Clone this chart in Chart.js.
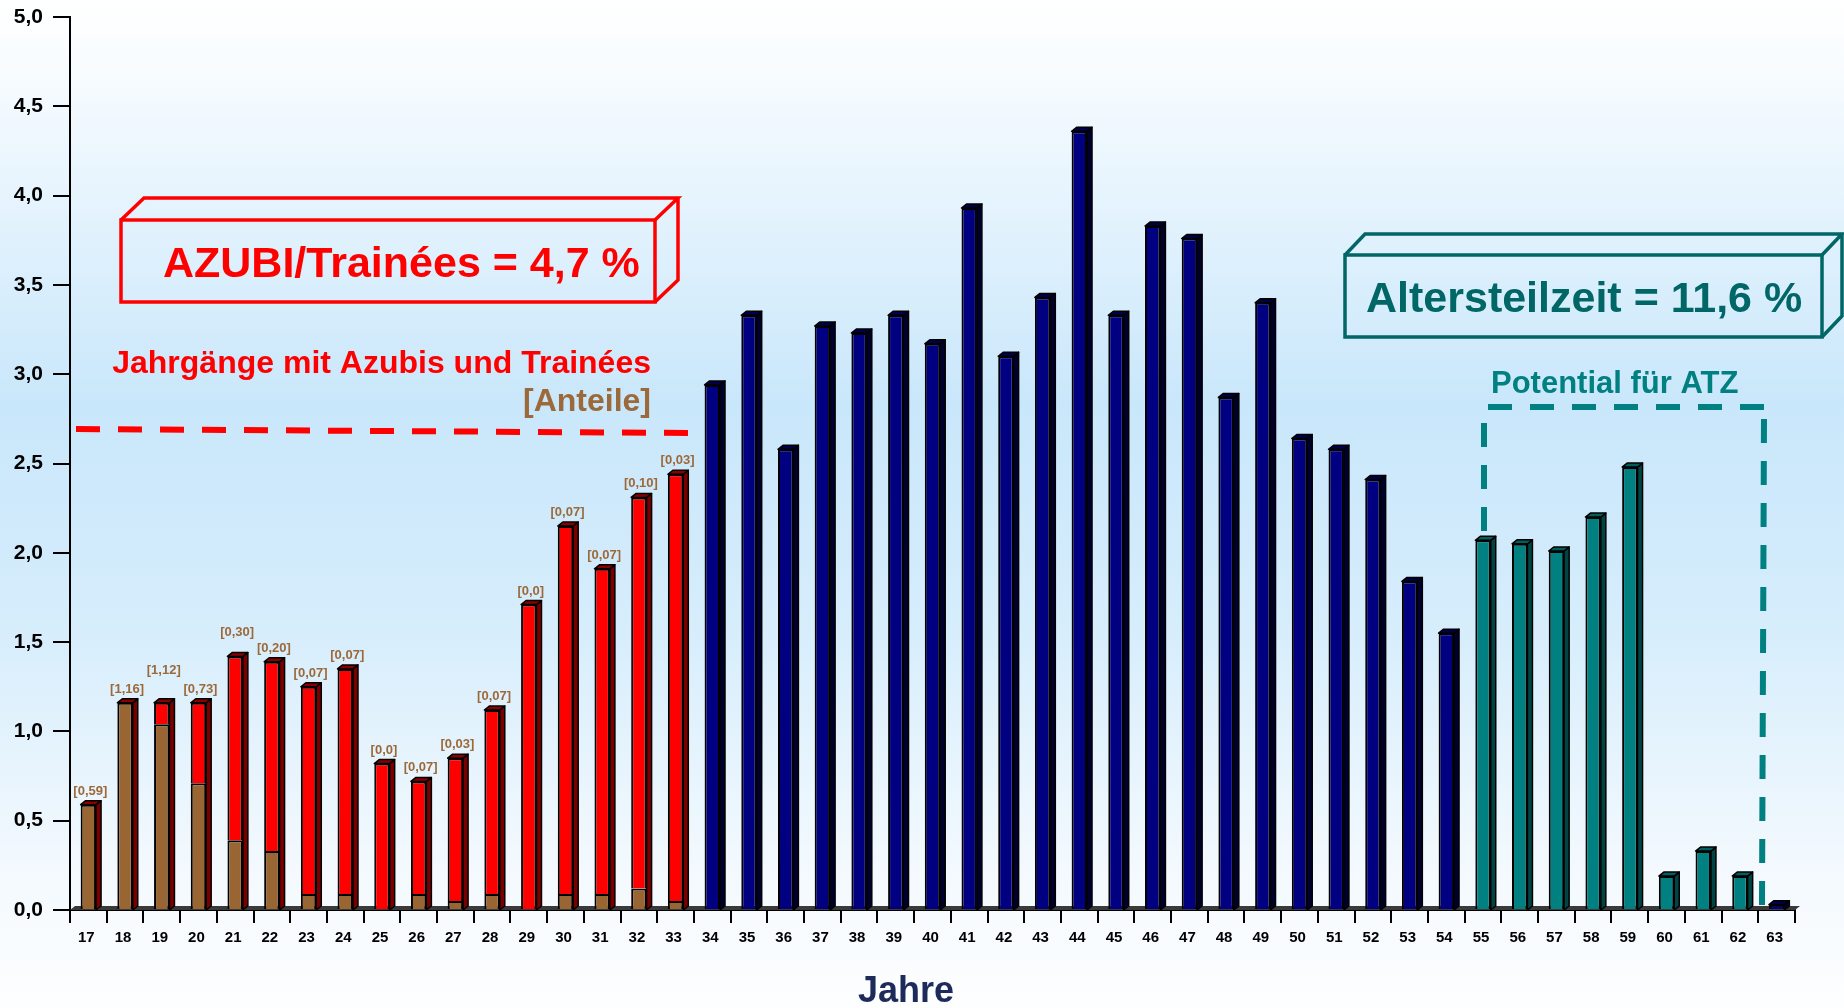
<!DOCTYPE html>
<html lang="de">
<head>
<meta charset="utf-8">
<title>Altersstruktur</title>
<script src="https://cdn.jsdelivr.net/npm/chart.js@4/dist/chart.umd.min.js"></script>
<style>
  html, body { margin: 0; padding: 0; overflow: hidden; background: #fff; }
  #wrap { position: relative; width: 1844px; height: 1008px; }
</style>
</head>
<body>
<div id="wrap"><canvas id="altersChart"></canvas></div>
<script>
// Jahrgänge (Alter) auf der x-Achse
const jahre = ['17', '18', '19', '20', '21', '22', '23', '24', '25', '26', '27', '28', '29', '30', '31', '32', '33',
  '34', '35', '36', '37', '38', '39', '40', '41', '42', '43', '44', '45', '46', '47', '48', '49', '50', '51', '52', '53', '54',
  '55', '56', '57', '58', '59', '60', '61', '62', '63'];

// Anteil je Jahrgang in %
const anteilGesamt = [0.59, 1.16, 1.16, 1.16, 1.42, 1.39, 1.25, 1.35, 0.82, 0.72, 0.85, 1.12, 1.71, 2.15, 1.91, 2.31, 2.44,
  2.94, 3.33, 2.58, 3.27, 3.23, 3.33, 3.17, 3.93, 3.10, 3.43, 4.36, 3.33, 3.83, 3.76, 2.87, 3.40, 2.64, 2.58, 2.41, 1.84, 1.55,
  2.07, 2.05, 2.01, 2.20, 2.48, 0.19, 0.33, 0.19, 0.03];

// Anteil Azubis/Trainées in den Jahrgängen 17 bis 33
const anteilAzubis = [0.59, 1.16, 1.04, 0.71, 0.39, 0.33, 0.09, 0.09, 0, 0.09, 0.05, 0.09, 0, 0.09, 0.09, 0.12, 0.05];
const azubiLabels = ['[0,59]', '[1,16]', '[1,12]', '[0,73]', '[0,30]', '[0,20]', '[0,07]', '[0,07]', '[0,0]',
  '[0,07]', '[0,03]', '[0,07]', '[0,0]', '[0,07]', '[0,07]', '[0,10]', '[0,03]'];

// Jahrgänge mit Altersteilzeit
const atzJahre = ['55', '56', '57', '58', '59', '60', '61', '62'];

const yTickLabels = ['0,0', '0,5', '1,0', '1,5', '2,0', '2,5', '3,0', '3,5', '4,0', '4,5', '5,0'];

const FONT = "'Liberation Sans', Arial, sans-serif";
Chart.defaults.font.family = FONT;

const nAzubi = anteilAzubis.length;
const braunDaten = jahre.map((j, i) => (i < nAzubi && anteilAzubis[i] > 0) ? anteilAzubis[i] : null);
const rotDaten = jahre.map((j, i) => {
  if (i >= nAzubi) return null;
  const rest = +(anteilGesamt[i] - anteilAzubis[i]).toFixed(2);
  return rest > 0 ? rest : null;
});
const tuerkisDaten = jahre.map((j, i) => atzJahre.includes(j) ? anteilGesamt[i] : null);
const blauDaten = jahre.map((j, i) => (i >= nAzubi && !atzJahre.includes(j)) ? anteilGesamt[i] : null);

const tiefe = { dx: 5, dy: 4 };

// Hintergrund mit Verlauf
const hintergrund = {
  id: 'hintergrund',
  beforeDraw(chart) {
    const { ctx, width, height } = chart;
    const g = ctx.createLinearGradient(0, 0, 0, height);
    g.addColorStop(0, '#ffffff');
    g.addColorStop(0.08, '#f6fbff');
    g.addColorStop(0.40, '#c9e7fb');
    g.addColorStop(0.62, '#d6edfc');
    g.addColorStop(0.86, '#f3f9fe');
    g.addColorStop(1, '#fdfeff');
    ctx.save();
    ctx.fillStyle = g;
    ctx.fillRect(0, 0, width, height);
    ctx.restore();
  }
};

// 3D-Boden unter den Säulen
const boden = {
  id: 'boden',
  beforeDatasetsDraw(chart) {
    const { ctx, chartArea } = chart;
    const base = chart.scales.y.getPixelForValue(0);
    ctx.save();
    ctx.fillStyle = '#3a3a3a';
    ctx.beginPath();
    ctx.moveTo(chartArea.left, base);
    ctx.lineTo(chartArea.left + tiefe.dx, base - tiefe.dy);
    ctx.lineTo(chartArea.right + tiefe.dx, base - tiefe.dy);
    ctx.lineTo(chartArea.right, base);
    ctx.closePath();
    ctx.fill();
    ctx.restore();
  }
};

function obersteSaeule(chart, j) {
  let top = null, idx = -1;
  chart.data.datasets.forEach((ds, i) => {
    if (ds.data[j] == null) return;
    const el = chart.getDatasetMeta(i).data[j];
    if (!top || el.y < top.y) { top = el; idx = i; }
  });
  return { top, idx };
}

// Seiten- und Deckflächen der Säulen
const saeulen3d = {
  id: 'saeulen3d',
  afterDatasetsDraw(chart) {
    const ctx = chart.ctx;
    const base = chart.scales.y.getPixelForValue(0);
    const { dx, dy } = tiefe;
    for (let j = 0; j < jahre.length; j++) {
      const { top, idx } = obersteSaeule(chart, j);
      if (!top) continue;
      const ds = chart.data.datasets[idx];
      const l = top.x - top.width / 2, r = top.x + top.width / 2, t = top.y;
      ctx.save();
      ctx.lineWidth = 1.5;
      ctx.strokeStyle = '#000';
      ctx.lineJoin = 'round';
      ctx.beginPath();
      ctx.moveTo(r, base);
      ctx.lineTo(r + dx, base - dy);
      ctx.lineTo(r + dx, t - dy);
      ctx.lineTo(r, t);
      ctx.closePath();
      ctx.fillStyle = ds.seite;
      ctx.fill();
      ctx.stroke();
      ctx.beginPath();
      ctx.moveTo(l, t);
      ctx.lineTo(l + dx, t - dy);
      ctx.lineTo(r + dx, t - dy);
      ctx.lineTo(r, t);
      ctx.closePath();
      ctx.fillStyle = ds.deckel;
      ctx.fill();
      ctx.stroke();
      ctx.restore();
    }
  }
};

// Anteile über den Azubi-Säulen
const extraHoehe = { '19': 19, '21': 10 };
const anteilBeschriftung = {
  id: 'anteilBeschriftung',
  afterDatasetsDraw(chart) {
    const ctx = chart.ctx;
    ctx.save();
    ctx.font = 'bold 13px ' + FONT;
    ctx.fillStyle = '#9c6a3a';
    ctx.textAlign = 'center';
    ctx.textBaseline = 'alphabetic';
    azubiLabels.forEach((txt, j) => {
      const { top } = obersteSaeule(chart, j);
      if (!top) return;
      ctx.fillText(txt, top.x + 2, top.y - 10 - (extraHoehe[jahre[j]] || 0));
    });
    ctx.restore();
  }
};

function kasten3d(ctx, x1, y1, x2, y2, dx, dy, farbe) {
  ctx.save();
  ctx.strokeStyle = farbe;
  ctx.lineWidth = 3.5;
  ctx.lineJoin = 'miter';
  ctx.strokeRect(x1, y1, x2 - x1, y2 - y1);
  ctx.beginPath();
  ctx.moveTo(x1, y1);
  ctx.lineTo(x1 + dx, y1 - dy);
  ctx.lineTo(x2 + dx, y1 - dy);
  ctx.lineTo(x2, y1);
  ctx.moveTo(x2 + dx, y1 - dy);
  ctx.lineTo(x2 + dx, y2 - dy);
  ctx.lineTo(x2, y2);
  ctx.stroke();
  ctx.restore();
}

function strichLinie(ctx, x1, y1, x2, y2, farbe) {
  ctx.save();
  ctx.strokeStyle = farbe;
  ctx.lineWidth = 6;
  ctx.lineCap = 'butt';
  ctx.setLineDash([24, 18]);
  ctx.beginPath();
  ctx.moveTo(x1, y1);
  ctx.lineTo(x2, y2);
  ctx.stroke();
  ctx.restore();
}

function text(ctx, s, x, y, groesse, farbe, align) {
  ctx.save();
  ctx.font = 'bold ' + groesse + 'px ' + FONT;
  ctx.fillStyle = farbe;
  ctx.textAlign = align || 'left';
  ctx.textBaseline = 'alphabetic';
  ctx.fillText(s, x, y);
  ctx.restore();
}

// Kästen, Hinweise, Achsentitel und gestrichelte Markierungen
const hinweise = {
  id: 'hinweise',
  afterDraw(chart) {
    const ctx = chart.ctx;
    kasten3d(ctx, 121, 220, 655, 302, 23, 22, '#ff0000');
    text(ctx, 'AZUBI/Trainées = 4,7 %', 163, 277, 43, '#ff0000');
    text(ctx, 'Jahrgänge mit Azubis und Trainées', 651, 373, 32, '#ff0000', 'right');
    text(ctx, '[Anteile]', 651, 411, 32, '#9c6a3a', 'right');
    strichLinie(ctx, 76, 429, 690, 433, '#ff0000');

    kasten3d(ctx, 1345, 255, 1822, 337, 20, 21, '#006666');
    text(ctx, 'Altersteilzeit = 11,6 %', 1366, 312, 43, '#006666');
    text(ctx, 'Potential für ATZ', 1491, 393, 31, '#008080');
    strichLinie(ctx, 1488, 407, 1766, 407, '#008080');
    strichLinie(ctx, 1484, 423, 1484, 540, '#008080');
    strichLinie(ctx, 1764, 419, 1762, 905, '#008080');

    text(ctx, 'Jahre', 906, 1002, 36, '#1c2b5a', 'center');
  }
};

const ctx = document.getElementById('altersChart').getContext('2d');
const altersChart = new Chart(ctx, {
  type: 'bar',
  data: {
    labels: jahre,
    datasets: [
      { label: 'Azubis/Trainées [Anteile]', data: braunDaten, backgroundColor: '#996633', seite: '#7a0000', deckel: '#8a0000' },
      { label: 'Azubis und Trainées', data: rotDaten, backgroundColor: '#ff0000', seite: '#7a0000', deckel: '#8a0000' },
      { label: 'Mitarbeiter', data: blauDaten, backgroundColor: '#000080', seite: '#00002e', deckel: '#000048' },
      { label: 'Altersteilzeit', data: tuerkisDaten, backgroundColor: '#008080', seite: '#004545', deckel: '#005e5e' }
    ]
  },
  options: {
    responsive: true,
    maintainAspectRatio: false,
    animation: false,
    layout: { padding: { top: 17, right: 49, bottom: 0, left: 0 } },
    datasets: {
      bar: {
        barPercentage: 0.42,
        categoryPercentage: 1,
        borderColor: '#000',
        borderWidth: 2,
        grouped: false
      }
    },
    plugins: {
      legend: { display: false },
      tooltip: { enabled: false }
    },
    scales: {
      x: {
        stacked: true,
        offset: true,
        grid: {
          offset: true,
          drawOnChartArea: false,
          drawTicks: true,
          tickLength: 13,
          color: '#000',
          lineWidth: 2
        },
        border: { display: true, color: '#000', width: 2 },
        ticks: {
          color: '#000',
          font: { size: 15, weight: 'bold' },
          padding: 6,
          labelOffset: -2,
          maxRotation: 0,
          autoSkip: false
        },
        title: { display: false, text: 'Jahre' },
        afterFit(scale) { scale.height = 98; }
      },
      y: {
        stacked: true,
        min: 0,
        max: 5,
        grid: {
          drawOnChartArea: false,
          drawTicks: true,
          tickLength: 17,
          color: '#000',
          lineWidth: 2
        },
        border: { display: true, color: '#000', width: 2 },
        ticks: {
          stepSize: 0.5,
          color: '#000',
          font: { size: 21, weight: 'bold' },
          padding: 10,
          callback: (v, i) => yTickLabels[i]
        },
        afterFit(scale) {
          scale.width = 70;
          scale.paddingTop = 0;
          scale.paddingBottom = 0;
        }
      }
    }
  },
  plugins: [hintergrund, boden, saeulen3d, anteilBeschriftung, hinweise]
});
</script>
</body>
</html>
